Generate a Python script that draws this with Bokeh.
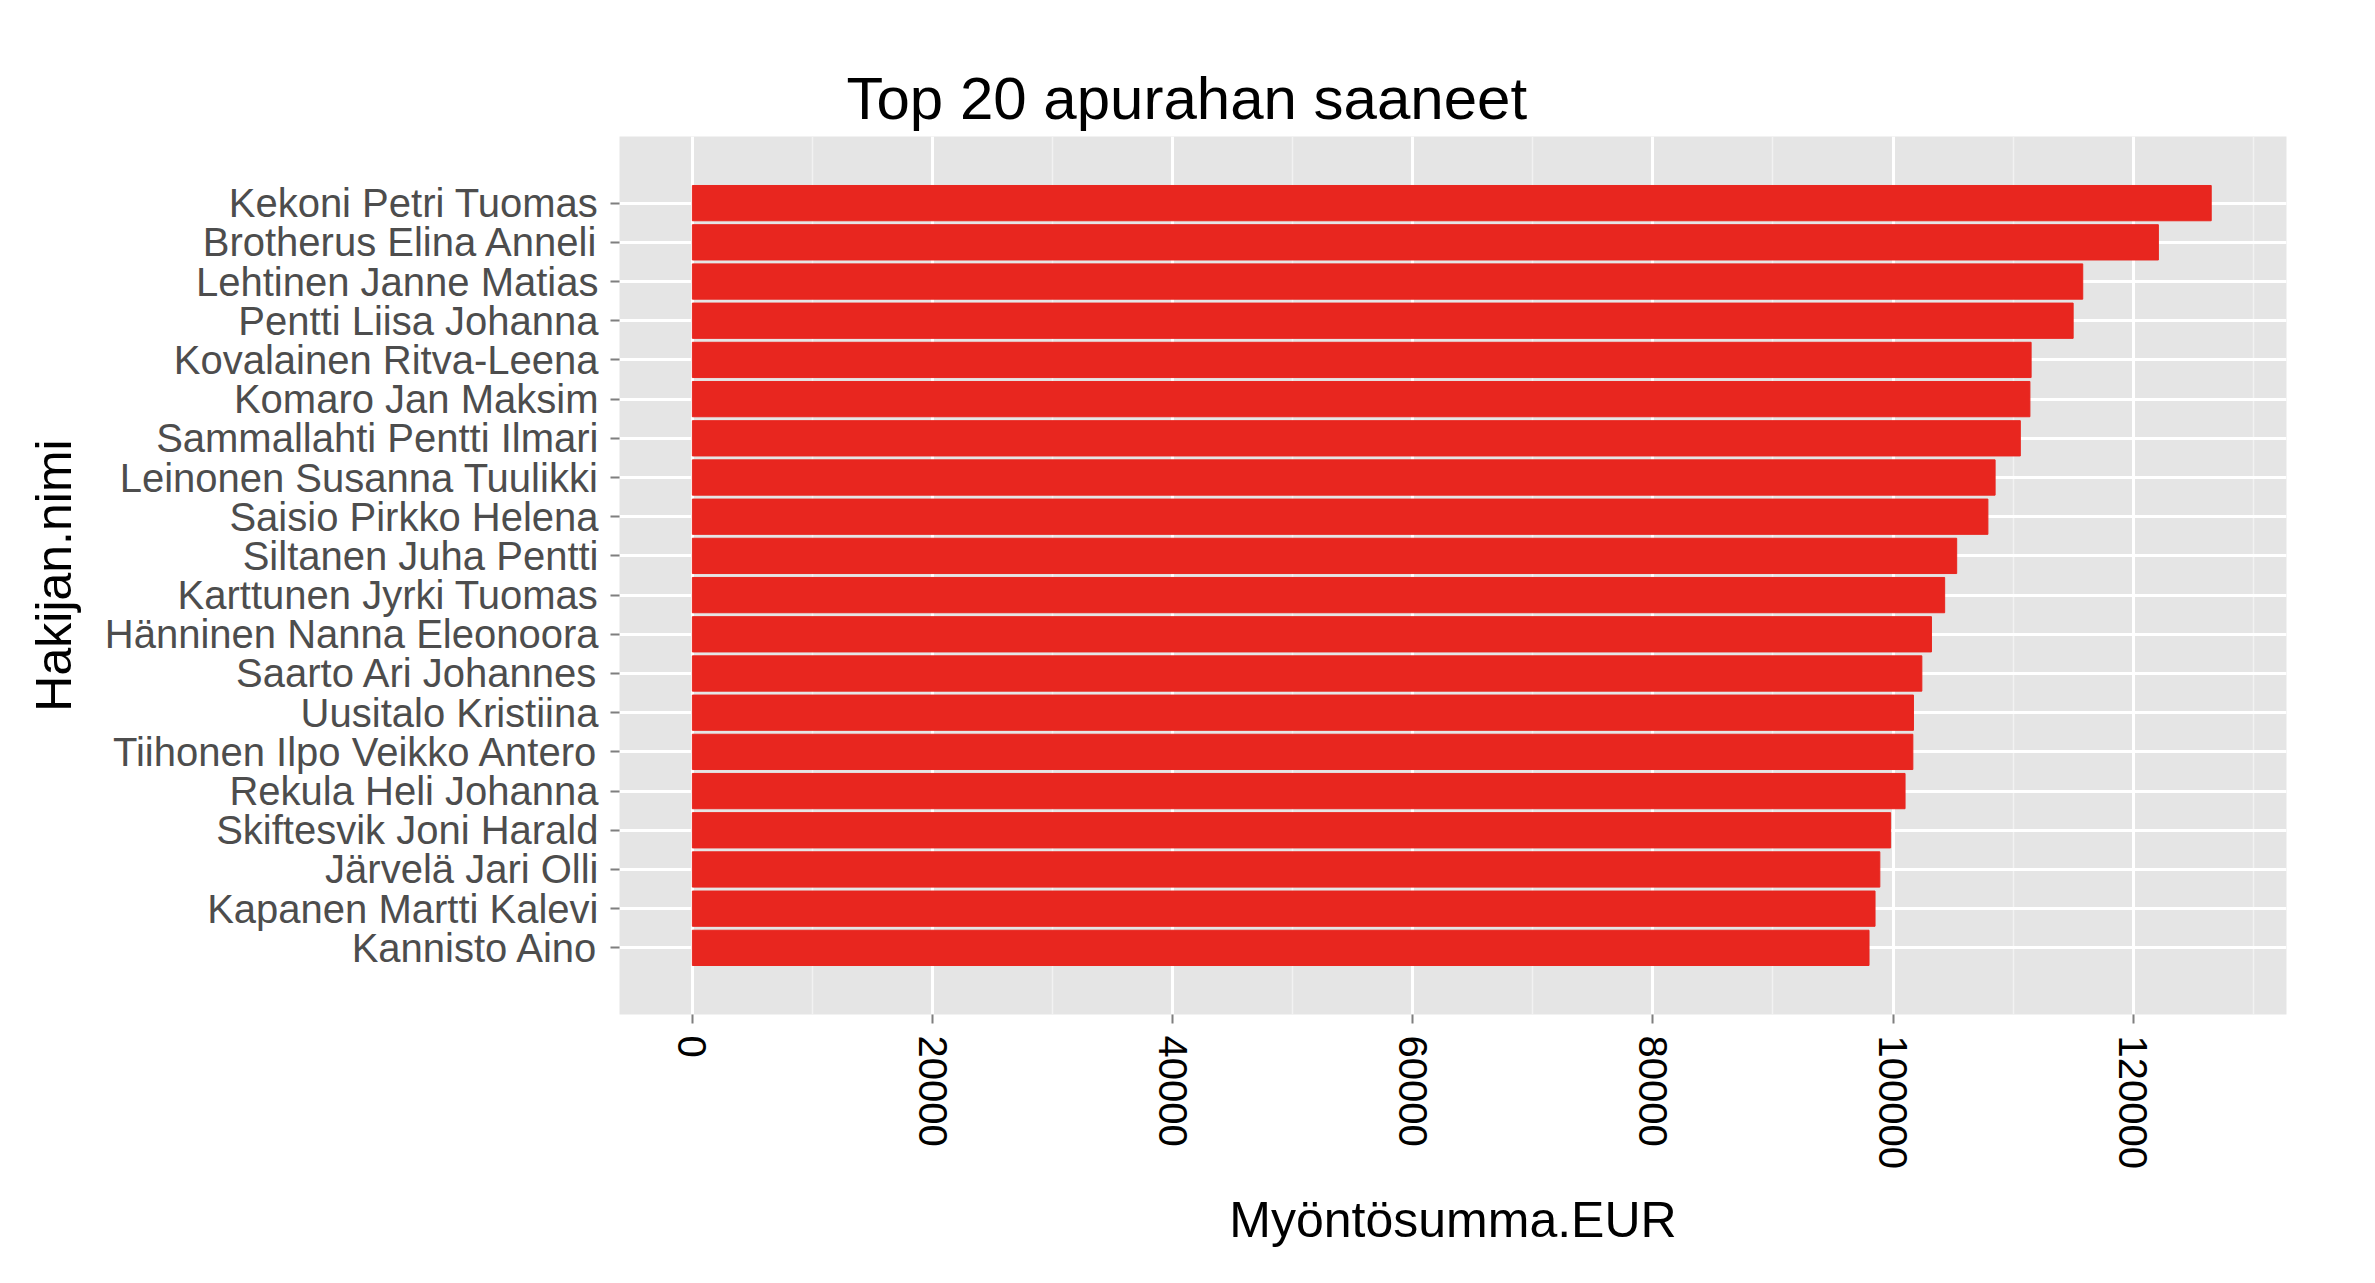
import math
from bokeh.plotting import figure
from bokeh.models import Range1d, FixedTicker, Title, BasicTickFormatter
from bokeh.embed import file_html
from bokeh.resources import INLINE

names = ["Kekoni Petri Tuomas", "Brotherus Elina Anneli", "Lehtinen Janne Matias",
         "Pentti Liisa Johanna", "Kovalainen Ritva-Leena", "Komaro Jan Maksim",
         "Sammallahti Pentti Ilmari", "Leinonen Susanna Tuulikki", "Saisio Pirkko Helena",
         "Siltanen Juha Pentti", "Karttunen Jyrki Tuomas", "Hänninen Nanna Eleonoora",
         "Saarto Ari Johannes", "Uusitalo Kristiina", "Tiihonen Ilpo Veikko Antero",
         "Rekula Heli Johanna", "Skiftesvik Joni Harald", "Järvelä Jari Olli",
         "Kapanen Martti Kalevi", "Kannisto Aino"]
amounts = [126500, 122100, 115800, 115000, 111500, 111400, 110600, 108500, 107900,
           105300, 104300, 103200, 102400, 101700, 101650, 101000, 99800, 98900,
           98500, 98000]
x_ticks = [0, 20000, 40000, 60000, 80000, 100000, 120000]

FONT = "Liberation Sans"
p = figure(y_range=list(reversed(names)), width=2355, height=1265,
           output_backend="svg", toolbar_location=None,
           min_border_left=619, min_border_right=69, min_border_top=136,
           min_border_bottom=251)
p.y_range.range_padding = 1.2
p.y_range.range_padding_units = "absolute"
p.x_range = Range1d(-6070, 132770)
p.hbar(y=names, right=amounts, left=0, height=0.9, color="#E8261F")

p.add_layout(Title(text="Top 20 apurahan saaneet", text_font=FONT,
                   text_font_size="60px", text_font_style="normal",
                   align="left", offset=227, text_color="black"), "above")

p.background_fill_color = "#E5E5E5"
p.border_fill_color = "white"
p.outline_line_color = None
p.xgrid.ticker = FixedTicker(ticks=x_ticks, minor_ticks=[10000, 30000, 50000, 70000, 90000, 110000, 130000])
p.xaxis.ticker = FixedTicker(ticks=x_ticks)
p.xaxis.formatter = BasicTickFormatter(use_scientific=False)
p.grid.grid_line_color = "white"
p.grid.grid_line_width = 3
p.xgrid.minor_grid_line_color = "#F2F2F2"
p.xgrid.minor_grid_line_width = 1.5

for ax in (p.xaxis, p.yaxis):
    ax.axis_line_color = None
    ax.major_tick_line_color = "#7F7F7F"
    ax.major_tick_line_width = 2
    ax.major_tick_out = 9
    ax.major_tick_in = 0
    ax.minor_tick_line_color = None
    ax.major_label_text_font = FONT
    ax.major_label_text_font_size = "40px"
    ax.major_label_standoff = 12
    ax.axis_label_text_font = FONT
    ax.axis_label_text_font_size = "50px"
    ax.axis_label_text_font_style = "normal"
    ax.axis_label_text_color = "black"

p.xaxis.major_label_orientation = -math.pi / 2
p.xaxis.major_label_text_color = "black"
p.yaxis.major_label_text_color = "#4D4D4D"
p.xaxis.axis_label = "Myöntösumma.EUR"
p.xaxis.axis_label_standoff = 20
p.yaxis.axis_label = "Hakijan.nimi"
p.yaxis.axis_label_standoff = 20

open("out.html", "w").write(file_html(p, INLINE))
